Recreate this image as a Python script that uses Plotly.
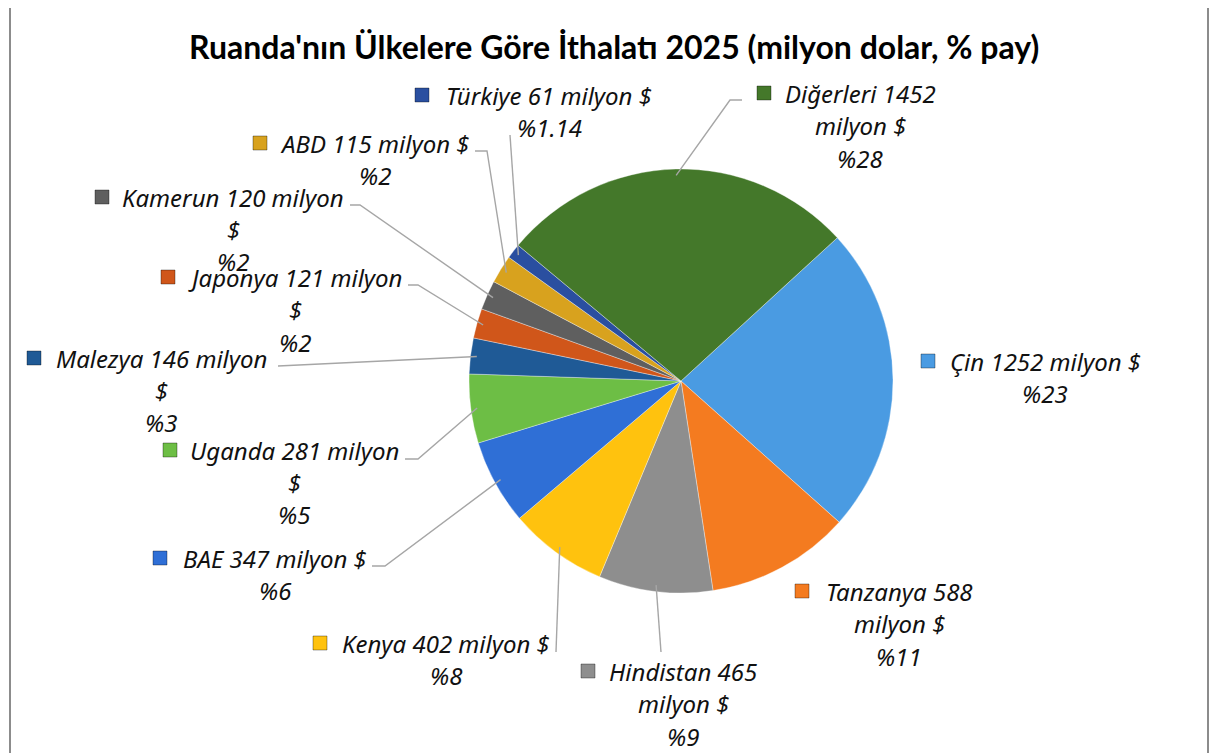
import math
import plotly.graph_objects as go

W, H = 1219, 753

countries = ["Çin", "Tanzanya", "Hindistan", "Kenya", "BAE", "Uganda",
             "Malezya", "Japonya", "Kamerun", "ABD", "Türkiye", "Diğerleri"]
values = [1252, 588, 465, 402, 347, 281, 146, 121, 120, 115, 61, 1452]
pct_labels = ["%23", "%11", "%9", "%8", "%6", "%5", "%3", "%2", "%2", "%2", "%1.14", "%28"]
colors = ["#4A9BE2", "#F47B20", "#8E8E8E", "#FFC20E", "#2F6FD6", "#6DBE45",
          "#1F5A96", "#D0561A", "#5F5F5F", "#D8A21E", "#2A4FA0", "#44782A"]

title = "Ruanda'nın Ülkelere Göre İthalatı 2025 (milyon dolar, % pay)"

# label layout (pixels): centre x of text, y of first line, key x, wrap mode, leader points
label_layout = {
    "Çin":       (1045, 361, 928, "C", []),
    "Tanzanya":  (899, 591, 802, "B", []),
    "Hindistan": (683, 671, 588, "B", [(661, 652)]),
    "Kenya":     (446, 643, 320, "C", [(556, 652)]),
    "BAE":       (275, 558, 160, "C", [(372, 566), (385, 566)]),
    "Uganda":    (294, 450, 170, "A", [(405, 459), (418, 459)]),
    "Malezya":   (161, 358, 34, "A", [(278, 366)]),
    "Japonya":   (295, 277, 168, "A", [(408, 285), (418, 285)]),
    "Kamerun":   (233, 197, 102, "A", [(350, 205), (360, 205)]),
    "ABD":       (375, 143, 260, "C", [(475, 151), (487, 151)]),
    "Türkiye":   (549, 95, 422, "C", [(510, 135)]),
    "Diğerleri": (860, 93, 764, "B", [(742, 100), (730, 100)]),
}

cx, cy, R = 681, 381, 212
rotation = 47.5
OFF = 8  # page body margin


def px(x):
    return (x - OFF) / W


def py(y):
    return 1 - (y - OFF) / H


fig = go.Figure(go.Pie(
    labels=countries, values=values, sort=False, direction="clockwise",
    rotation=rotation, textinfo="none", hoverinfo="label+value+percent",
    marker=dict(colors=colors, line=dict(color="rgba(255,255,255,0.35)", width=1)),
    domain=dict(x=[px(cx - R), px(cx + R)], y=[py(cy + R), py(cy - R)]),
    showlegend=False,
))

annotations = []
shapes = []
total = sum(values)
start = rotation
font = dict(family="Noto Sans", size=24, color="#111111")
for name, val, pct, col in zip(countries, values, pct_labels, colors):
    span = val / total * 360
    mid = math.radians(start + span / 2)
    start += span
    ex = cx + math.sin(mid) * R * 0.97
    ey = cy - math.cos(mid) * R * 0.97
    tx, ty, kx, mode, pts = label_layout[name]
    if mode == "A":
        lines = [f"{name} {val} milyon", "$", pct]
    elif mode == "B":
        lines = [f"{name} {val}", "milyon $", pct]
    else:
        lines = [f"{name} {val} milyon $", pct]
    for i, ln in enumerate(lines):
        annotations.append(dict(
            x=px(tx), y=py(ty + i * 32.5), xref="paper", yref="paper",
            text=f"<i>{ln}</i>", showarrow=False, xanchor="center", yanchor="middle",
            font=font))
    shapes.append(dict(type="rect", xref="paper", yref="paper",
                       x0=px(kx - 7), x1=px(kx + 7), y0=py(ty + 7), y1=py(ty - 7),
                       fillcolor=col, line=dict(color="rgba(0,0,0,0.35)", width=1)))
    if pts:
        path_pts = pts + [(ex, ey)]
        d = "M " + " L ".join(f"{px(x):.5f},{py(y):.5f}" for x, y in path_pts)
        shapes.append(dict(type="path", path=d, xref="paper", yref="paper",
                           line=dict(color="#A6A6A6", width=1.4)))

# chart frame
shapes.append(dict(type="rect", xref="paper", yref="paper",
                   x0=px(10), x1=px(1208), y0=py(770), y1=py(5),
                   line=dict(color="#8C8C8C", width=2), fillcolor="rgba(0,0,0,0)"))

annotations.append(dict(
    x=px(614), y=py(47), xref="paper", yref="paper", text=f"<b>{title}</b>",
    showarrow=False, xanchor="center", yanchor="middle",
    font=dict(family="Lato", size=32, color="#000000")))

fig.update_layout(
    width=W, height=H, margin=dict(l=0, r=0, t=0, b=0),
    paper_bgcolor="white", plot_bgcolor="white",
    annotations=annotations, shapes=shapes,
)

fig.write_html("out.html")
